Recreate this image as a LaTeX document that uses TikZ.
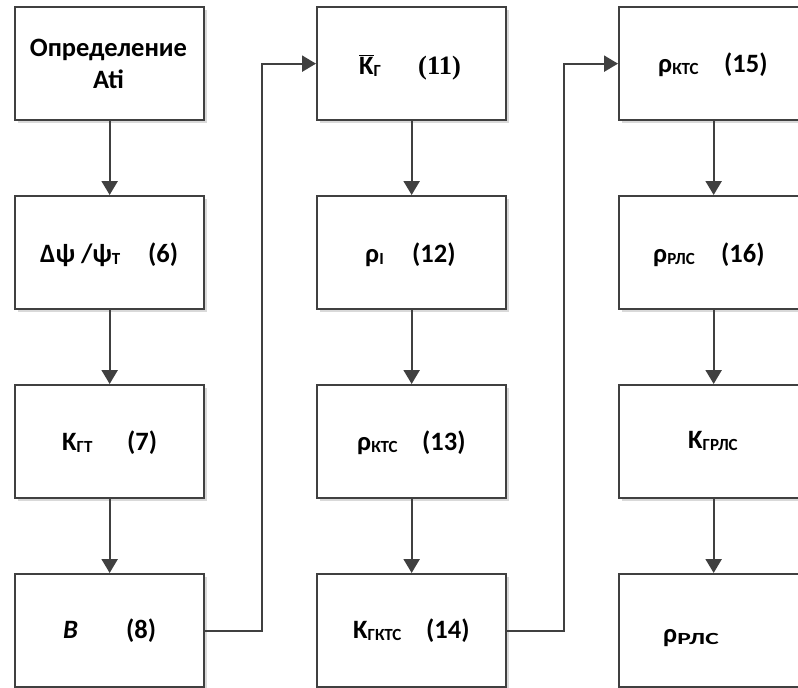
\documentclass[tikz,border=0pt]{standalone}
\usepackage{fontspec}
\setmainfont{Carlito}
\newfontfamily\serifbold{Liberation Serif}
\usetikzlibrary{arrows.meta,shadows}
\definecolor{linec}{HTML}{404040}
\definecolor{shadc}{HTML}{D9D9D9}
\newcommand\sbc[1]{\raisebox{-2.5pt}{\fontsize{17}{17}\selectfont #1}}
\begin{document}
\begin{tikzpicture}[x=1pt,y=-1pt,
  blk/.style={draw=linec, line width=2.3pt, fill=white, minimum width=189pt,
    minimum height=113pt, inner sep=0pt, anchor=north west,
    drop shadow={shadow xshift=3pt, shadow yshift=-3pt, fill=shadc, opacity=1}},
  txt/.style={anchor=base west, inner sep=0pt, font=\bfseries\fontsize{26.5}{32}\selectfont, text=black},
  arr/.style={draw=linec, line width=2.3pt, -{Triangle[length=14pt,width=16pt]}}
]
\useasboundingbox (0,0) rectangle (798,688);
\clip (0,0) rectangle (798,688);
% boxes
\node[blk] (b1) at (14,6) {};
\node[blk] (b6) at (14,195) {};
\node[blk] (b7) at (14,384) {};
\node[blk] (b8) at (14,573) {};
\node[blk] (b11) at (316,6) {};
\node[blk] (b12) at (316,195) {};
\node[blk] (b13) at (316,384) {};
\node[blk] (b14) at (316,573) {};
\node[blk] (b15) at (618,6) {};
\node[blk] (b16) at (618,195) {};
\node[blk] (b17) at (618,384) {};
\node[blk] (b18) at (618,573) {};
% texts
\node[txt, anchor=base] (t1a) at (108.5,56) {Определение};
\node[txt, anchor=base] (t1b) at (108.5,88) {Ati};
\node[txt] (t6a) at (40,262) {Δψ /ψ\sbc{Т}};
\node[txt] (t6b) at (148,262) {(6)};
\node[txt] (t7a) at (62,450) {K\sbc{ГТ}};
\node[txt] (t7b) at (127,450) {(7)};
\node[txt] (t8a) at (63,638) {\itshape B};
\node[txt] (t8b) at (126,638) {(8)};
\node[txt] (t11a) at (359,74) {$\overline{\hbox{\bfseries K}}$\sbc{Г}};
\node[txt] (t11b) at (418,74) {\serifbold\bfseries (11)};
\node[txt] (t12a) at (365,262) {ρ\sbc{I}};
\node[txt] (t12b) at (412,262) {(12)};
\node[txt] (t13a) at (357,450) {ρ\sbc{КТС}};
\node[txt] (t13b) at (422,450) {(13)};
\node[txt] (t14a) at (353,638) {K\sbc{ГКТС}};
\node[txt] (t14b) at (426,638) {(14)};
\node[txt] (t15a) at (658,72) {ρ\sbc{КТС}};
\node[txt] (t15b) at (724,72) {(15)};
\node[txt] (t16a) at (653,262) {ρ\sbc{РЛС}};
\node[txt] (t16b) at (721,262) {(16)};
\node[txt] (t17a) at (688,448) {K\sbc{ГРЛС}};
\node[txt] (t18a) at (663,642) {ρ\sbc{\scalebox{1.5}[1]{РЛС}}};
% connectors
\draw[arr] (b1.south) -- (b6.north);
\draw[arr] (b6.south) -- (b7.north);
\draw[arr] (b7.south) -- (b8.north);
\draw[arr] (b11.south) -- (b12.north);
\draw[arr] (b12.south) -- (b13.north);
\draw[arr] (b13.south) -- (b14.north);
\draw[arr] (b15.south) -- (b16.north);
\draw[arr] (b16.south) -- (b17.north);
\draw[arr] (b17.south) -- (b18.north);
\draw[arr] (b8.east) -- ++(57,0) |- (b11.west);
\draw[arr] (b14.east) -- ++(57,0) |- (b15.west);
\end{tikzpicture}
\end{document}
